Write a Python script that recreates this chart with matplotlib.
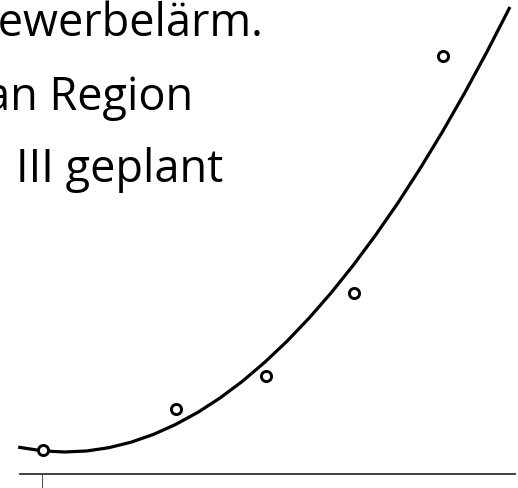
import matplotlib
matplotlib.use("Agg")
import matplotlib.pyplot as plt

# Messpunkte (x in Einheiten, y in Einheiten)
punkte_x = [0.01, 1.51, 2.52, 3.51, 4.51]
punkte_y = [2.4, 6.5, 9.8, 18.1, 41.8]

kurve_x = [-0.25, 0.0, 0.25, 0.5, 0.75, 1.0, 1.25, 1.5, 1.75, 2.0, 2.25, 2.5,
           2.75, 3.0, 3.25, 3.5, 3.75, 4.0, 4.25, 4.5, 4.75, 5.0, 5.25]
kurve_y = [2.66, 2.32, 2.20, 2.30, 2.63, 3.18, 3.95, 4.95, 6.16, 7.60, 9.26, 11.15,
           13.25, 15.58, 18.13, 20.91, 23.91, 27.12, 30.57, 34.23, 38.12, 42.23, 46.56]

text_zeilen = ["Gewerbelärm.", "an Region", "III geplant"]
text_rechts = [263, 193, 223]      # rechter Rand in Pixel
text_basis = [36, 110, 182]        # Grundlinie in Pixel

W, H = 518, 488
fig = plt.figure(figsize=(W / 100, H / 100), dpi=100)
ax = fig.add_axes([0, 0, 1, 1])
ax.set_xlim(-42 / 89, (W - 42) / 89)
ax.set_ylim(-(H - 474) / 10, 474 / 10)

ax.plot(kurve_x, kurve_y, color="black", lw=2.3, solid_joinstyle="round")
ax.plot(punkte_x, punkte_y, "o", mfc="white", mec="black", ms=7.3, mew=2.1)

for s in ["top", "left", "right"]:
    ax.spines[s].set_visible(False)
ax.spines["bottom"].set_position(("data", 0))
ax.spines["bottom"].set_bounds(-22 / 89, 473 / 89)
ax.spines["bottom"].set_color("#333333")
ax.spines["bottom"].set_linewidth(1.3)
ax.set_yticks([])
ax.set_xticks([0])
ax.set_xticklabels([""])
ax.tick_params(axis="x", direction="out", length=11, width=0.8, color="#555555")

for t, xr, yb in zip(text_zeilen, text_rechts, text_basis):
    fig.text(xr / W, 1 - yb / H, t, ha="right", va="baseline",
             fontsize=32.5, family="Open Sans", color="black")

fig.savefig("out.png", dpi=100)
